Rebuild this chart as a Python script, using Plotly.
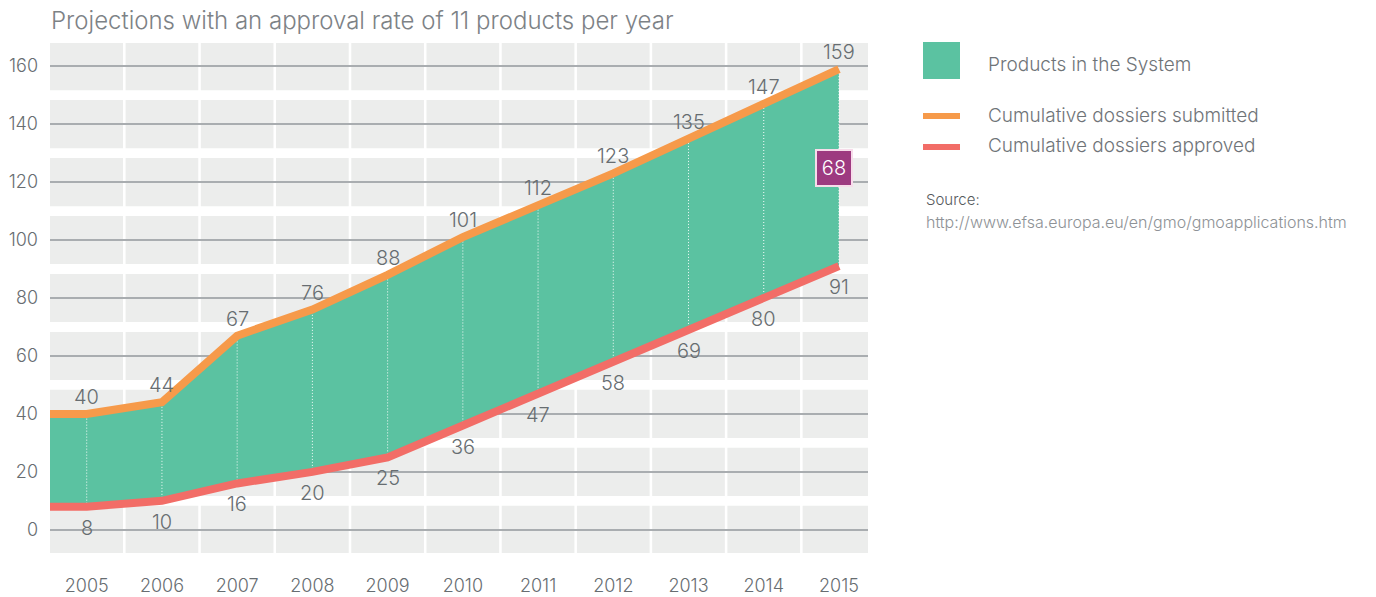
import plotly.graph_objects as go

# ---- data ----
years = [2005, 2006, 2007, 2008, 2009, 2010, 2011, 2012, 2013, 2014, 2015]
submitted = [40, 44, 67, 76, 88, 101, 112, 123, 135, 147, 159]
approved = [8, 10, 16, 20, 25, 36, 47, 58, 69, 80, 91]
y_ticks = [0, 20, 40, 60, 80, 100, 120, 140, 160]

title_text = "Projections with an approval rate of 11 products per year"
legend_labels = ["Products in the System", "Cumulative dossiers submitted", "Cumulative dossiers approved"]
source_label = "Source:"
source_url = "http://www.efsa.europa.eu/en/gmo/gmoapplications.htm"

# ---- style ----
FONT = "Inter"
WEIGHT = 300
GREEN = "#5bc2a1"
ORANGE = "#f69a4a"
RED = "#f26d67"
TILE = "#ecedec"
GRID = "#a9adb0"
TEXT = "#676d71"
PURPLE = "#9d3a80"

W, H = 1376, 597
L, R, T, B = 50, 868, 43, 553          # plot area in pixels
X_RANGE = [2004.512, 2015.386]
Y_RANGE = [-8, 168]

in_system = [s - a for s, a in zip(submitted, approved)]


def px(xp):
    return (xp - L) / (R - L)


def py(yp):
    return (B - yp) / (B - T)


def font(size, color=TEXT):
    return dict(family=FONT, size=size, color=color, weight=WEIGHT)


# the curves run flat from the left edge of the panel to the first year
line_x = [X_RANGE[0]] + years
line_sub = [submitted[0]] + submitted
line_app = [approved[0]] + approved

fig = go.Figure()

# band between the two cumulative curves
fig.add_trace(go.Scatter(x=line_x, y=line_app, mode="lines",
                         line=dict(width=0, color=RED), hoverinfo="skip", showlegend=False))
fig.add_trace(go.Scatter(x=line_x, y=line_sub, mode="lines", fill="tonexty",
                         fillcolor=GREEN, line=dict(width=0, color=GREEN),
                         name=legend_labels[0], showlegend=False))

# dotted white year markers inside the band
vx, vy = [], []
for yr, lo, hi in zip(years, approved, submitted):
    vx += [yr, yr, None]
    vy += [lo, hi, None]
fig.add_trace(go.Scatter(x=vx, y=vy, mode="lines", hoverinfo="skip", showlegend=False,
                         line=dict(color="rgba(255,255,255,0.95)", width=1, dash="1px,2px")))

# cumulative curves
fig.add_trace(go.Scatter(x=line_x, y=line_app, mode="lines", name=legend_labels[2],
                         line=dict(color=RED, width=8), showlegend=False))
fig.add_trace(go.Scatter(x=line_x, y=line_sub, mode="lines", name=legend_labels[1],
                         line=dict(color=ORANGE, width=8), showlegend=False))

shapes = []
# grey background tiles: one column per year, one row per 20-unit band
col_edges = [X_RANGE[0]] + [yr + 0.5 for yr in years[:-1]] + [X_RANGE[1]]
half_gap_x = 0.017
row_centres = list(range(0, 161, 20))
for i in range(len(col_edges) - 1):
    x0 = col_edges[i] + (half_gap_x if i > 0 else 0)
    x1 = col_edges[i + 1] - (half_gap_x if i < len(col_edges) - 2 else 0)
    for c in row_centres:
        y0 = max(c - 8.3, Y_RANGE[0])
        y1 = min(c + 8.3, Y_RANGE[1]) if c < 160 else Y_RANGE[1]
        shapes.append(dict(type="rect", xref="x", yref="y", x0=x0, x1=x1, y0=y0, y1=y1,
                           fillcolor=TILE, line=dict(width=0), layer="below"))

# legend swatches
shapes.append(dict(type="rect", xref="paper", yref="paper", x0=px(923), x1=px(960),
                   y0=py(79), y1=py(42), fillcolor=GREEN, line=dict(width=0)))
shapes.append(dict(type="rect", xref="paper", yref="paper", x0=px(923), x1=px(960),
                   y0=py(119), y1=py(113), fillcolor=ORANGE, line=dict(width=0)))
shapes.append(dict(type="rect", xref="paper", yref="paper", x0=px(923), x1=px(960),
                   y0=py(150), y1=py(144), fillcolor=RED, line=dict(width=0)))

annotations = []
# value labels
for yr, v in zip(years, submitted):
    annotations.append(dict(x=yr, y=v, xref="x", yref="y", text=str(v), showarrow=False,
                            yshift=17, font=font(20)))
for yr, v in zip(years, approved):
    annotations.append(dict(x=yr, y=v, xref="x", yref="y", text=str(v), showarrow=False,
                            yshift=-21, font=font(20)))

# highlighted count of products in the system for the last year
annotations.append(dict(x=years[-1], y=(approved[-1] + submitted[-1]) / 2, xref="x", yref="y",
                        text=str(in_system[-1]), showarrow=False, xshift=-5,
                        font=font(20, "white"),
                        bgcolor=PURPLE, bordercolor="#f7dcea", borderwidth=2, borderpad=3,
                        width=28, height=28))

# title
annotations.append(dict(x=px(49), y=py(21), xref="paper", yref="paper", text=title_text,
                        showarrow=False, xanchor="left", yanchor="middle",
                        font=font(24, "#7d8286")))

# legend texts
for label, yp in zip(legend_labels, [65, 115, 146]):
    annotations.append(dict(x=px(986), y=py(yp), xref="paper", yref="paper", text=label,
                            showarrow=False, xanchor="left", yanchor="middle",
                            font=font(19, "#6f7478")))
annotations.append(dict(x=px(924), y=py(199), xref="paper", yref="paper", text=source_label,
                        showarrow=False, xanchor="left", yanchor="middle",
                        font=font(15, "#55595c")))
annotations.append(dict(x=px(924), y=py(222), xref="paper", yref="paper", text=source_url,
                        showarrow=False, xanchor="left", yanchor="middle",
                        font=font(16, "#8e9296")))

fig.update_layout(
    width=W, height=H,
    margin=dict(l=L, r=W - R, t=T, b=H - B, autoexpand=False),
    paper_bgcolor="white", plot_bgcolor="white",
    shapes=shapes, annotations=annotations,
    showlegend=False,
    xaxis=dict(range=X_RANGE, tickmode="array", tickvals=years, ticktext=[str(y) for y in years],
               showgrid=False, zeroline=False, showline=False, ticks="", automargin=False,
               ticklabelstandoff=20, tickfont=font(18),
               fixedrange=True),
    yaxis=dict(range=Y_RANGE, tickmode="array", tickvals=y_ticks, ticktext=[str(v) for v in y_ticks],
               showgrid=True, gridcolor=GRID, gridwidth=1.5, zeroline=False, showline=False,
               ticks="", automargin=False, ticklabelstandoff=11,
               tickfont=font(18),
               fixedrange=True),
)

fig.write_html("out.html")
